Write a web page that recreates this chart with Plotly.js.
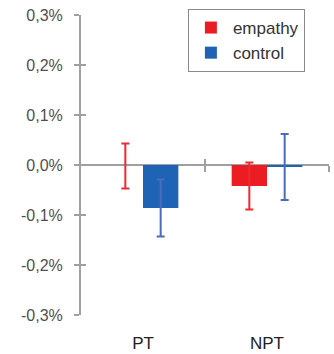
<!DOCTYPE html>
<html>
<head>
<meta charset="utf-8">
<script src="https://cdn.plot.ly/plotly-3.0.1.min.js"></script>
<style>html,body{margin:0;padding:0;background:#fff;}#chart{width:334px;height:354px;}</style>
</head>
<body>
<div id="chart"></div>
<script>
// Data (values in percent)
var categories = ['PT', 'NPT'];
var empathyValues = [0.0, -0.042];
var empathyErrPlus = [0.043, 0.047];
var empathyErrMinus = [0.047, 0.047];
var controlValues = [-0.086, -0.004];
var controlErrors = [0.057, 0.066];
var yTickVals = [-0.3, -0.2, -0.1, 0, 0.1, 0.2, 0.3];
var yTickText = ['-0,3%', '-0,2%', '-0,1%', '0,0%', '0,1%', '0,2%', '0,3%'];
var boundaryTicks = [0.5, 1.5];

var gray = '#a0a0a0';
var traces = [
  {type: 'bar', name: 'empathy', x: categories, y: empathyValues,
   marker: {color: '#ec1c24'},
   error_y: {type: 'data', symmetric: false, array: empathyErrPlus, arrayminus: empathyErrMinus,
     visible: true, color: '#ee2a2f', thickness: 2, width: 4}},
  {type: 'bar', name: 'control', x: categories, y: controlValues,
   marker: {color: '#1f63b5'},
   error_y: {type: 'data', array: controlErrors, visible: true, color: '#4a6cbd', thickness: 2, width: 4}},
  {type: 'scatter', x: [], y: [], xaxis: 'x', yaxis: 'y2', showlegend: false, hoverinfo: 'skip'},
  {type: 'scatter', x: [], y: [], xaxis: 'x2', yaxis: 'y', showlegend: false, hoverinfo: 'skip'},
  {type: 'scatter', x: [], y: [], xaxis: 'x3', yaxis: 'y', showlegend: false, hoverinfo: 'skip'}
];

var tickFont = {family: 'Liberation Sans, Arial, sans-serif', size: 16, color: '#505050'};
var layout = {
  width: 334, height: 354,
  margin: {l: 81, r: 5, t: 15, b: 39},
  paper_bgcolor: '#fff', plot_bgcolor: '#fff',
  barmode: 'group', bargap: 0.43, bargroupgap: 0,
  showlegend: true,
  legend: {x: 0.431, y: 1.02, xanchor: 'left', yanchor: 'top',
    bordercolor: '#8a8a8a', borderwidth: 1, bgcolor: '#fff', itemwidth: 34,
    font: {family: 'Liberation Sans, Arial, sans-serif', size: 17, color: '#333'},
    traceorder: 'normal'},
  xaxis: {type: 'category', range: [-0.5, 1.5], showline: false, showgrid: false, zeroline: false,
    ticks: '', tickfont: {family: 'Liberation Sans, Arial, sans-serif', size: 17, color: '#222'},
    ticklabelstandoff: 16, fixedrange: true},
  xaxis2: {type: 'linear', overlaying: 'x', anchor: 'free', position: 0.5, range: [-0.5, 1.5],
    tickmode: 'array', tickvals: boundaryTicks, showticklabels: false, ticks: 'outside', ticklen: 6,
    tickwidth: 2, tickcolor: gray, showline: false, showgrid: false, zeroline: false, side: 'bottom'},
  xaxis3: {type: 'linear', overlaying: 'x', anchor: 'free', position: 0.5, range: [-0.5, 1.5],
    tickmode: 'array', tickvals: boundaryTicks, showticklabels: false, ticks: 'inside', ticklen: 6,
    tickwidth: 2, tickcolor: gray, showline: false, showgrid: false, zeroline: false, side: 'bottom'},
  yaxis: {range: [-0.3, 0.3], tickmode: 'array', tickvals: yTickVals, ticktext: yTickText,
    ticks: 'outside', ticklen: 5, tickwidth: 2, tickcolor: gray,
    showline: true, linecolor: gray, linewidth: 2, showgrid: false,
    zeroline: true, zerolinecolor: gray, zerolinewidth: 2,
    tickfont: tickFont, ticklabelstandoff: 8, fixedrange: true},
  yaxis2: {overlaying: 'y', side: 'left', range: [-0.3, 0.3], tickmode: 'array', tickvals: yTickVals,
    showticklabels: false, ticks: 'inside', ticklen: 5, tickwidth: 2, tickcolor: gray,
    showline: false, showgrid: false, zeroline: false}
};
Plotly.newPlot('chart', traces, layout, {staticPlot: true, displayModeBar: false});
</script>
</body>
</html>
